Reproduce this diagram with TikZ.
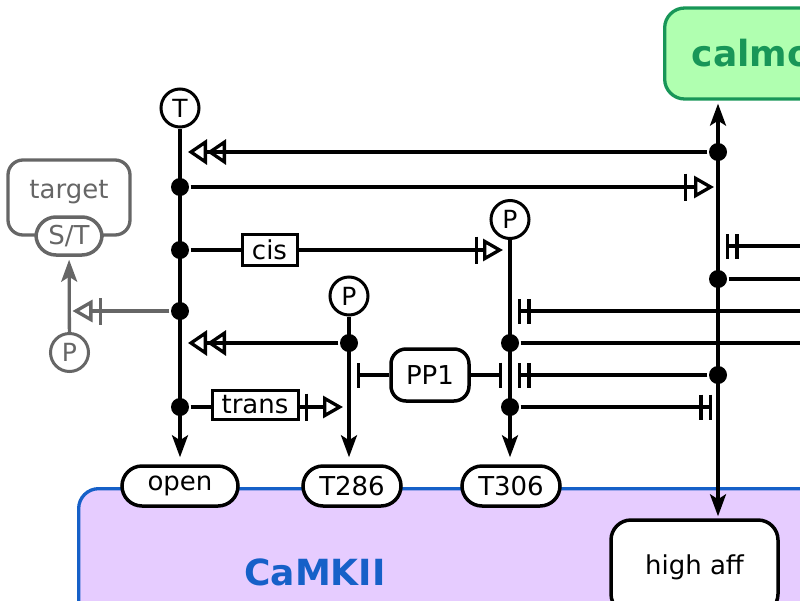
\documentclass[tikz,border=0pt]{standalone}
\usepackage{fontspec}
\setmainfont{DejaVu Sans}
\usetikzlibrary{arrows.meta}
\definecolor{cmkfill}{RGB}{230,204,255}
\definecolor{cmkblue}{RGB}{22,96,200}
\definecolor{calfill}{RGB}{176,255,176}
\definecolor{calgreen}{RGB}{24,150,88}
\definecolor{tgtgray}{RGB}{102,102,102}

\begin{document}
\begin{tikzpicture}[x=1pt, y=-1pt, line width=3.3pt,
  lbl/.style={font=\fontsize{26}{30}\selectfont},
  big/.style={font=\fontsize{36}{40}\selectfont\bfseries},
  dot/.style={circle, fill=black, inner sep=0pt, minimum size=18pt},
  pcirc/.style={circle, draw, line width=3pt, fill=white, inner sep=0pt,
    minimum size=38pt, font=\fontsize{25}{28}\selectfont},
  svar/.style={lbl, draw, line width=3.5pt, fill=white, rounded corners=20pt, inner sep=0pt,
    minimum width=#1, minimum height=40pt},
  infobox/.style={lbl, draw, line width=3pt, fill=white, inner sep=0pt,
    minimum width=#1, minimum height=31pt},
  prod/.style={-{Stealth[length=22pt,width=16pt,inset=5pt]}, shorten >=7pt},
  prodboth/.style={{Stealth[length=22pt,width=16pt,inset=5pt]}-{Stealth[length=22pt,width=16pt,inset=5pt]},
    shorten >=2pt, shorten <=3pt},
  abstim/.style={-{Triangle[open,length=19pt,width=25pt]Triangle[open,length=19pt,width=25pt]}},
  necstim/.style={-{Bar[width=27pt,sep=#1]Triangle[open,length=20pt,width=22pt]}},
  necstim/.default=5pt,
  inhib/.style={-{Bar[width=25pt]}},
  absinh/.style={-{Bar[width=25pt,sep=6pt]Bar[width=25pt]}}]

\path[use as bounding box] (0,0) rectangle (800,600);
\clip (0,0) rectangle (800,600);

% complexes
\node[draw=cmkblue, fill=cmkfill, rounded corners=20pt, anchor=north west,
  minimum width=900pt, minimum height=300pt] (camkii) at (77,487) {};
\node[big, text=cmkblue] (camkiilbl) at (315,572) {CaMKII};
\node[big, draw=calgreen, fill=calfill, text=calgreen, rounded corners=20pt,
  anchor=west, inner xsep=27pt, minimum height=91pt] (calm) at (663,53.5) {calmodulin};
\node[lbl, draw, line width=3.5pt, fill=white, rounded corners=20pt,
  minimum width=167pt, minimum height=94pt] (highaff) at (694.5,567) {high aff};

% target
\node[draw=tgtgray, rounded corners=15pt, minimum width=122pt, minimum height=75pt] (target) at (69,197.5) {};
\node[lbl, text=tgtgray] (targetlbl) at ([yshift=5pt]target.center) {target};
\node[svar=66pt, draw=tgtgray, text=tgtgray, minimum height=38pt] (st) at (69,236) {S/T};
\node[pcirc, draw=tgtgray, text=tgtgray] (ptg) at (69.5,352.5) {P};

% state variables
\node[svar=116pt] (open) at (180,486) {open};
\node[svar=98pt] (t286) at (352,486) {T286};
\node[svar=98pt] (t306) at (511,486) {T306};

% sites
\node[pcirc] (T) at (180,108) {T};
\node[pcirc] (p286) at (349,296) {P};
\node[pcirc] (p306) at (510,219.5) {P};

% junctions
\node[dot] (tA) at (180,187) {};
\node[dot] (tB) at (180,250) {};
\node[dot] (tC) at (180,311) {};
\node[dot] (tD) at (180,407) {};
\node[dot] (pA) at (349,343) {};
\node[dot] (qA) at (510,343) {};
\node[dot] (qB) at (510,407) {};
\node[dot] (cA) at (718,152) {};
\node[dot] (cB) at (718,279) {};
\node[dot] (cC) at (718,375) {};
\coordinate (rim) at (830,0);
\coordinate (rimA) at (830,246);
\coordinate (rimB) at (830,311);

\node[infobox=55pt] (cis) at (269.5,250) {cis};
\node[infobox=86pt, minimum height=29pt] (trans) at (255,405) {trans};
\node[lbl, draw, line width=3.5pt, fill=white, rounded corners=15pt, inner sep=0pt,
  minimum width=78pt, minimum height=52pt] (pp1) at (430,375) {PP1};

% vertical lines
\draw[prod] (T) -- (T |- open.north);
\draw[prod] (p286) -- (p286 |- t286.north);
\draw[prod] (p306) -- (p306 |- t306.north);
\draw[prodboth] (cA |- calm.south) -- (cA |- highaff.north);
\draw[prod, tgtgray, shorten >=3pt] (ptg) -- (st);

% influences
\draw[abstim, shorten >=8pt] (cA) -- (T |- cA);
\draw[necstim=7pt, shorten >=4pt] (tA) -- (cA |- tA);
\draw (tB) -- (cis);
\draw[necstim, shorten >=7pt] (cis) -- (p306 |- tB);
\draw[necstim=6pt, tgtgray, shorten >=3pt] (tC) -- (ptg |- tC);
\draw (tD) -- (trans.west |- tD);
\draw[necstim=15pt, shorten >=6pt] (trans.east |- tD) -- (p286 |- tD);
\draw[abstim, shorten >=8pt] (pA) -- (T |- pA);
\draw[inhib, shorten >=8pt] (pp1) -- (p286 |- pp1);
\draw[inhib, shorten >=8pt] (pp1) -- (p306 |- pp1);
\draw (qA) -- (qA -| rim);
\draw[absinh, shorten >=6pt] (qB) -- (cA |- qB);
\draw[absinh, shorten >=8pt] (rimB) -- (p306 |- rimB);
\draw[absinh, shorten >=8pt] (cC) -- (p306 |- cC);
\draw[absinh, shorten >=8pt] (rimA) -- (cA |- rimA);
\draw (cB) -- (cB -| rim);
\end{tikzpicture}
\end{document}
